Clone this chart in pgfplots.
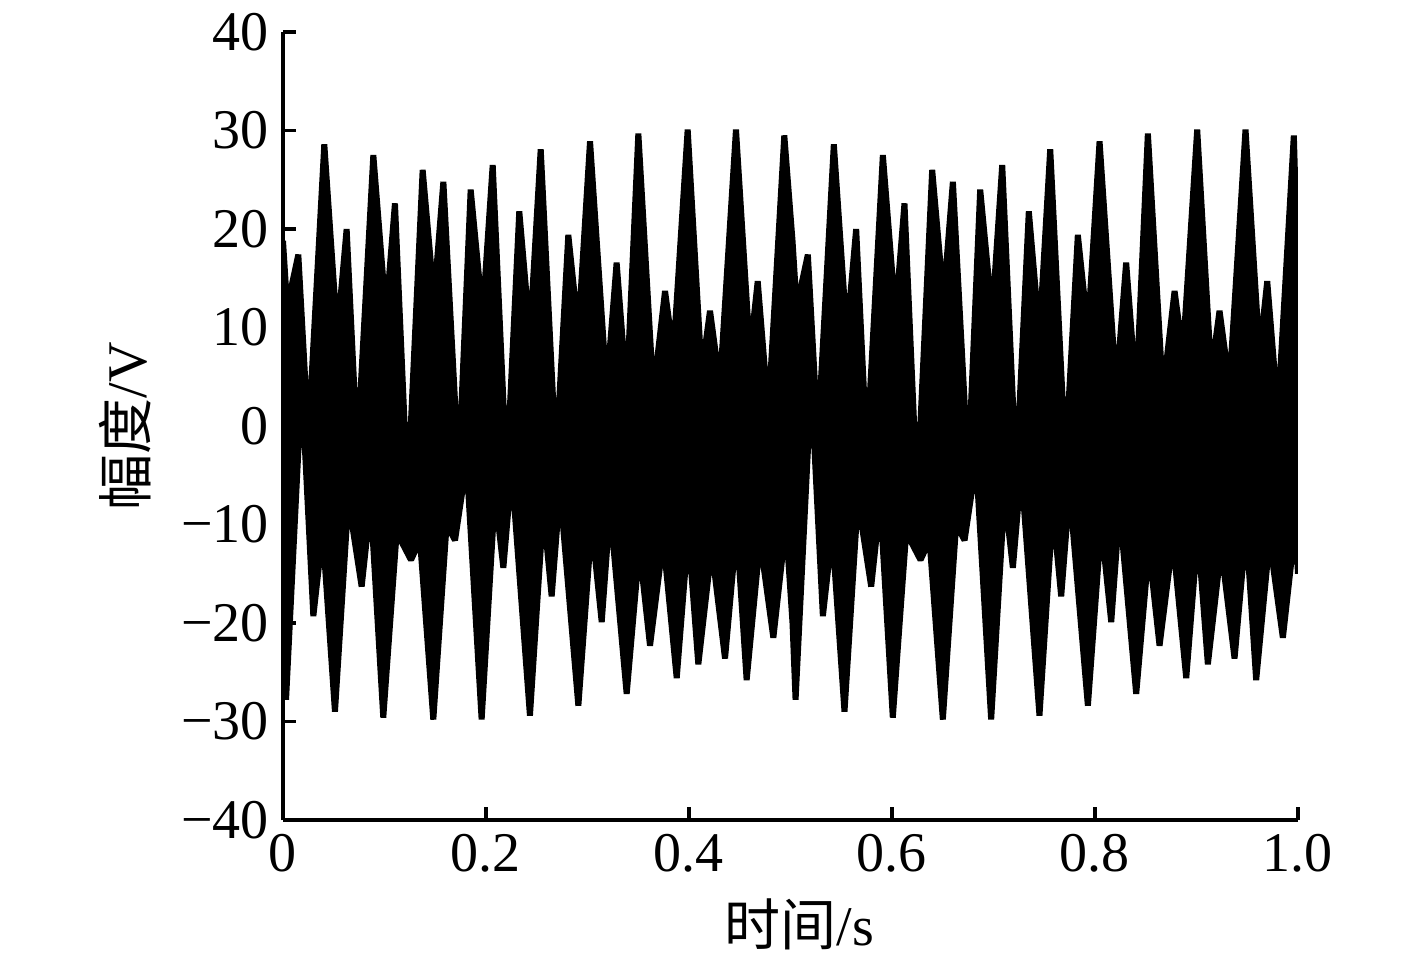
\documentclass[border=0pt]{standalone}
\usepackage{fontspec}
\setmainfont{Liberation Serif}
\newfontfamily\cjk{Noto Sans CJK SC}
\usepackage{pgfplots}
\pgfplotsset{compat=1.18}
\begin{document}
\begin{tikzpicture}
\path[use as bounding box] (-70.75pt,-34pt) rectangle (283.5pt,205pt);
\begin{axis}[
    scale only axis,
    width=253.75pt, height=197pt,
    axis x line=bottom,
    axis y line=left,
    axis line style={-, line width=0.8pt},
    enlargelimits=false,
    xmin=0, xmax=1,
    ymin=-40, ymax=40,
    xtick={0,0.2,0.4,0.6,0.8,1},
    xticklabels={0,0.2,0.4,0.6,0.8,1.0},
    ytick={-40,-30,-20,-10,0,10,20,30,40},
    yticklabels={−40,−30,−20,−10,0,10,20,30,40},
    tick align=inside,
    major tick length=3.2pt,
    tick style={line width=0.8pt, black},
    ticklabel style={font=\fontsize{14}{16}\selectfont},
    label style={font=\fontsize{14}{16}\selectfont},
    xlabel={{\cjk 时间}/s},
    ylabel={{\cjk 幅度}/V},
    xlabel style={at={(axis description cs:0.509,-0.133)}, anchor=center},
    ylabel style={at={(axis description cs:-0.156,0.5)}, anchor=center},
]
% black band of the signal: upper outline left to right, then lower outline back
\addplot[fill=black, draw=black, line width=1.5pt, line join=miter, miter limit=2] coordinates {
    % upper outline, first half
    (0.0000,18.8) (0.0036,12.9) (0.0053,12.7) (0.0151,17.4) (0.0250,-1.1)
    (0.0407,28.6) (0.0535,9.3) (0.0627,20.0) (0.0732,-2.5) (0.0890,27.5)
    (0.1015,11.3) (0.1103,22.6) (0.1228,-6.9) (0.1376,26.0) (0.1488,12.9)
    (0.1580,24.8) (0.1731,-4.5) (0.1849,24.0) (0.1967,11.3) (0.2066,26.5)
    (0.2204,-4.9) (0.2328,21.8) (0.2433,9.3) (0.2539,28.1) (0.2690,-3.3)
    (0.2811,19.4) (0.2910,9.7) (0.3025,28.9) (0.3189,3.8) (0.3287,16.6)
    (0.3386,3.4) (0.3501,29.7) (0.3649,3.4) (0.3764,13.7) (0.3846,7.4)
    (0.3987,30.1) (0.4125,5.4) (0.4207,11.7) (0.4305,4.2) (0.4463,30.1)
    (0.4601,7.4) (0.4677,14.7) (0.4782,1.4) (0.4939,29.5)
    % upper outline, second half
    (0.5020,18.8) (0.5056,12.9) (0.5073,12.7) (0.5171,17.4) (0.5270,-1.1)
    (0.5427,28.6) (0.5555,9.3) (0.5647,20.0) (0.5752,-2.5) (0.5910,27.5)
    (0.6035,11.3) (0.6123,22.6) (0.6248,-6.9) (0.6396,26.0) (0.6508,12.9)
    (0.6600,24.8) (0.6751,-4.5) (0.6869,24.0) (0.6987,11.3) (0.7086,26.5)
    (0.7224,-4.9) (0.7348,21.8) (0.7453,9.3) (0.7559,28.1) (0.7710,-3.3)
    (0.7831,19.4) (0.7930,9.7) (0.8045,28.9) (0.8209,3.8) (0.8307,16.6)
    (0.8406,3.4) (0.8521,29.7) (0.8669,3.4) (0.8784,13.7) (0.8866,7.4)
    (0.9007,30.1) (0.9145,5.4) (0.9227,11.7) (0.9325,4.2) (0.9483,30.1)
    (0.9621,7.4) (0.9697,14.7) (0.9802,1.4) (0.9959,29.5) (1.0000,15.0)
    % lower outline, second half (backwards)
    (1.0000,-15.0) (0.9975,-10.0) (0.9851,-21.5) (0.9720,-11.6) (0.9588,-25.8)
    (0.9490,-10.4) (0.9375,-23.6) (0.9243,-12.4) (0.9112,-24.2) (0.9013,-10.8)
    (0.8899,-25.6) (0.8767,-11.6) (0.8636,-22.3) (0.8531,-12.4) (0.8406,-27.2)
    (0.8242,-8.4) (0.8160,-19.9) (0.8061,-10.0) (0.7930,-28.4) (0.7749,-6.5)
    (0.7667,-17.3) (0.7585,-8.4) (0.7453,-29.4) (0.7273,-4.5) (0.7191,-14.4)
    (0.7109,-6.9) (0.6977,-29.8) (0.6829,-3.7) (0.6715,-11.6) (0.6632,-10.0)
    (0.6501,-29.8) (0.6370,-11.6) (0.6281,-13.6) (0.6140,-10.8) (0.6008,-29.6)
    (0.5884,-7.8) (0.5795,-16.3) (0.5664,-7.5) (0.5532,-29.0) (0.5411,-10.8)
    (0.5319,-19.3) (0.5204,4.3) (0.5050,-27.8) (0.5020,-20.0)
    % lower outline, first half (backwards)
    (0.4955,-10.0) (0.4831,-21.5) (0.4700,-11.6) (0.4568,-25.8) (0.4470,-10.4)
    (0.4355,-23.6) (0.4223,-12.4) (0.4092,-24.2) (0.3993,-10.8) (0.3879,-25.6)
    (0.3747,-11.6) (0.3616,-22.3) (0.3511,-12.4) (0.3386,-27.2) (0.3222,-8.4)
    (0.3140,-19.9) (0.3041,-10.0) (0.2910,-28.4) (0.2729,-6.5) (0.2647,-17.3)
    (0.2565,-8.4) (0.2433,-29.4) (0.2253,-4.5) (0.2171,-14.4) (0.2089,-6.9)
    (0.1957,-29.8) (0.1809,-3.7) (0.1695,-11.6) (0.1612,-10.0) (0.1481,-29.8)
    (0.1350,-11.6) (0.1261,-13.6) (0.1120,-10.8) (0.0988,-29.6) (0.0864,-7.8)
    (0.0775,-16.3) (0.0644,-7.5) (0.0512,-29.0) (0.0391,-10.8) (0.0299,-19.3)
    (0.0184,4.3) (0.0030,-27.8) (0.0000,-20.0) (0.0000,18.8)
};
\end{axis}
\end{tikzpicture}
\end{document}
